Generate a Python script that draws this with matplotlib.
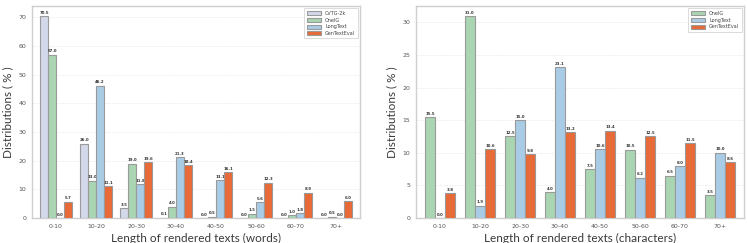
import numpy as np
import matplotlib
matplotlib.use('Agg')
from matplotlib import pyplot as plt

categories = ['0-10', '10-20', '20-30', '30-40', '40-50', '50-60', '60-70', '70+']

# words
cvtg_words = [70.5, 26.0, 3.5, 0.1, 0.0, 0.0, 0.0, 0.0]
oneig_words = [57.0, 13.0, 19.0, 4.0, 0.5, 1.5, 1.0, 0.5]
longtext_words = [0.0, 46.2, 11.8, 21.3, 13.1, 5.6, 1.8, 0.0]
gentext_words = [5.7, 11.1, 19.6, 18.4, 16.1, 12.3, 8.9, 6.0]

# characters
oneig_chars = [15.5, 31.0, 12.5, 4.0, 7.5, 10.5, 6.5, 3.5]
longtext_chars = [0.0, 1.9, 15.0, 23.1, 10.6, 6.2, 8.0, 10.0]
gentext_chars = [3.8, 10.6, 9.8, 13.2, 13.4, 12.5, 11.5, 8.6]

colors = {'CVTG-2k': '#d3d8ea', 'OneIG': '#a9d5b2', 'LongText': '#a9cce6',
          'GenTextEval': '#e86a38'}

label_font = ['Lato', 'DejaVu Sans']


def draw_panel(ax, series, width, ymax, yticks, xlabel):
    x = np.arange(len(categories))
    n = len(series)
    for i, (name, vals) in enumerate(series):
        off = (i - (n - 1) / 2) * width
        bars = ax.bar(x + off, vals, width, color=colors[name], edgecolor='#9a9a9a',
                      linewidth=0.8, label=name, zorder=3)
        for b, v in zip(bars, vals):
            ax.text(b.get_x() + b.get_width() / 2, b.get_height() + ymax * 0.006,
                    '{:.1f}'.format(v), ha='center', va='bottom', fontsize=2.8,
                    fontweight='bold', color='#333333')
    ax.set_xlim(-0.6, len(categories) - 0.4)
    ax.set_ylim(0, ymax)
    ax.set_xticks(x)
    ax.set_xticklabels(categories)
    ax.set_yticks(yticks)
    ax.tick_params(axis='both', labelsize=4.5, colors='#555555', length=0, pad=4)
    ax.yaxis.grid(True, linestyle='--', linewidth=0.4, color='#e6e6e6', zorder=0)
    for s in ax.spines.values():
        s.set_color('#cfcfcf')
        s.set_linewidth(1.0)
    ax.set_xlabel(xlabel, fontsize=8.5, family=label_font,
                  color='#3a3a3a', labelpad=3)
    ax.set_ylabel('Distributions ( % )', fontsize=8.5, family=label_font,
                  color='#3a3a3a', labelpad=4)
    leg = ax.legend(loc='upper right', fontsize=3.5, frameon=True, fancybox=False,
                    handlelength=3, handleheight=0.9, borderpad=0.5, labelspacing=0.35)
    leg.get_frame().set_edgecolor('#cccccc')
    leg.get_frame().set_linewidth(0.6)
    for t in leg.get_texts():
        t.set_color('#444444')


fig = plt.figure(figsize=(7.47, 2.43), dpi=100)
ax1 = fig.add_axes([32 / 747, 25 / 243, 328 / 747, 212 / 243])
ax2 = fig.add_axes([416 / 747, 25 / 243, 328 / 747, 212 / 243])

draw_panel(ax1, [('CVTG-2k', cvtg_words), ('OneIG', oneig_words),
                 ('LongText', longtext_words), ('GenTextEval', gentext_words)],
           0.2, 74, [0, 10, 20, 30, 40, 50, 60, 70], 'Length of rendered texts (words)')
draw_panel(ax2, [('OneIG', oneig_chars), ('LongText', longtext_chars),
                 ('GenTextEval', gentext_chars)],
           0.25, 32.5, [0, 5, 10, 15, 20, 25, 30], 'Length of rendered texts (characters)')

fig.savefig('out.png', dpi=100)
